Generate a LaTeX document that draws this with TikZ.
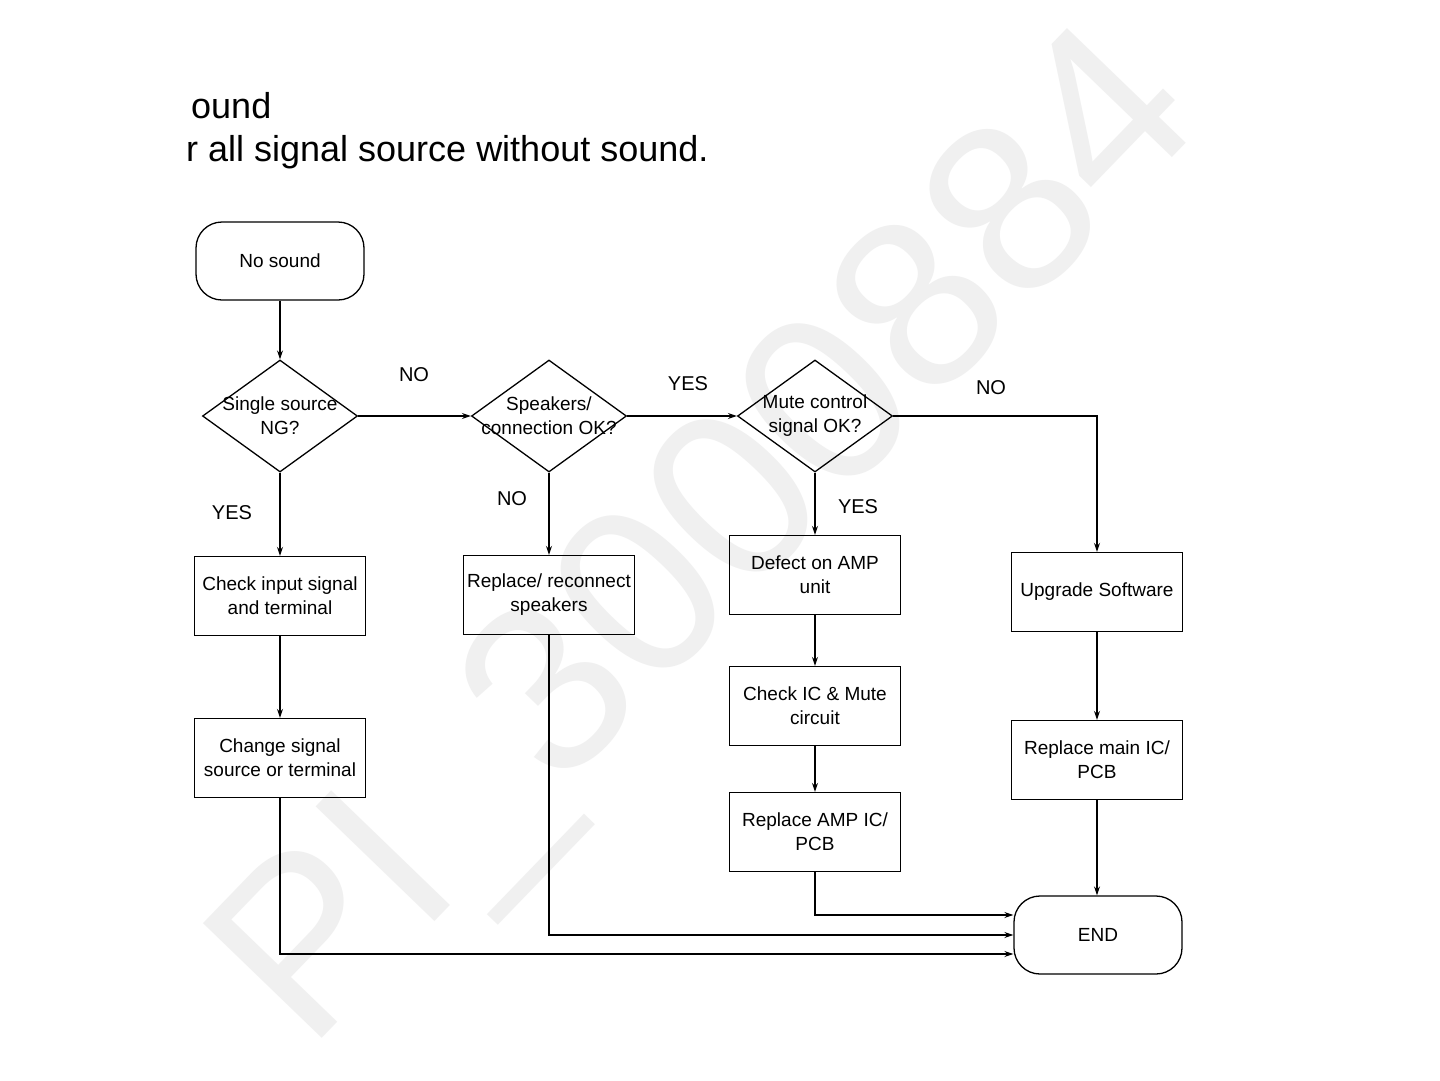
\documentclass[tikz,border=0pt]{standalone}
\usepackage{fontspec}
\setmainfont{Liberation Sans}
\usetikzlibrary{shapes.geometric,arrows.meta}
\begin{document}
\begin{tikzpicture}[x=1pt,y=-1pt,
  every node/.style={font=\fontsize{19}{24}\selectfont},
  proc/.style={draw, line width=1.3pt, minimum width=171pt, minimum height=79pt, inner sep=0pt, align=center},
  term/.style={draw, line width=1.3pt, rounded corners=26pt, minimum width=168pt, minimum height=78pt, inner sep=0pt, align=center},
  dia/.style={draw, diamond, line width=1.3pt, minimum width=155pt, minimum height=112pt, inner sep=0pt},
  dtxt/.style={align=center, inner sep=0pt},
  lbl/.style={font=\fontsize{20}{24}\selectfont},
  conn/.style={line width=1.3pt, -{Stealth[length=9pt,width=6pt]}},
  title/.style={anchor=base west, inner sep=0pt, font=\fontsize{36}{40}\selectfont}
]
\useasboundingbox (0,0) rectangle (1440,1080);
\fill[white] (0,0) rectangle (1440,1080);
% watermark
\node[rotate=46, text=black!6, font=\fontsize{240}{240}\selectfont] (wm) at (715,545) {PI\_3000884};

% title
\node[title] (t1) at (191,118) {ound};
\node[title] (t2) at (186,161) {r all signal source without sound.};

% nodes
\node[term] (start) at (280,261) {No sound};
\node[dia] (d1) at (280,416) {};
\node[dtxt] (d1t) at (280,416) {Single source\\NG?};
\node[dia] (d2) at (549,416) {};
\node[dtxt] (d2t) at (549,416) {Speakers/\\connection OK?};
\node[dia] (d3) at (815,416) {};
\node[dtxt] (d3t) at (815,416) {Mute control\\signal OK?};

\node[proc] (chk) at (280,596) {Check input signal\\and terminal};
\node[proc] (chg) at (280,758) {Change signal\\source or terminal};
\node[proc] (rep) at (549,595) {Replace/ reconnect\\speakers};
\node[proc] (def) at (815,575) {Defect on AMP\\unit};
\node[proc] (cic) at (815,706) {Check IC \& Mute\\circuit};
\node[proc] (ramp) at (815,832) {Replace AMP IC/\\PCB};
\node[proc] (upg) at (1097,592) {Upgrade Software};
\node[proc] (rmain) at (1097,760) {Replace main IC/\\PCB};
\node[term] (endn) at (1098,935) {END};

% labels
\node[lbl] (l1) at (414,375) {NO};
\node[lbl] (l2) at (688,384) {YES};
\node[lbl] (l3) at (991,388) {NO};
\node[lbl] (l4) at (232,513) {YES};
\node[lbl] (l5) at (512,499) {NO};
\node[lbl] (l6) at (858,507) {YES};

% connectors
\draw[conn] (start) -- (d1);
\draw[conn] (d1) -- (d2);
\draw[conn] (d2) -- (d3);
\draw[conn] (d3.east) -| (upg.north);
\draw[conn] (d1) -- (chk);
\draw[conn] (chk) -- (chg);
\draw[conn] (d2) -- (rep);
\draw[conn] (d3) -- (def);
\draw[conn] (def) -- (cic);
\draw[conn] (cic) -- (ramp);
\draw[conn] (upg) -- (rmain);
\draw[conn] (rmain.south) -- (rmain.south |- endn.north);
\draw[conn] (ramp.south) |- ([yshift=20pt]endn.west);
\draw[conn] (rep.south) |- (endn.west);
\draw[conn] (chg.south) |- ([yshift=-19pt]endn.west);
\end{tikzpicture}
\end{document}
